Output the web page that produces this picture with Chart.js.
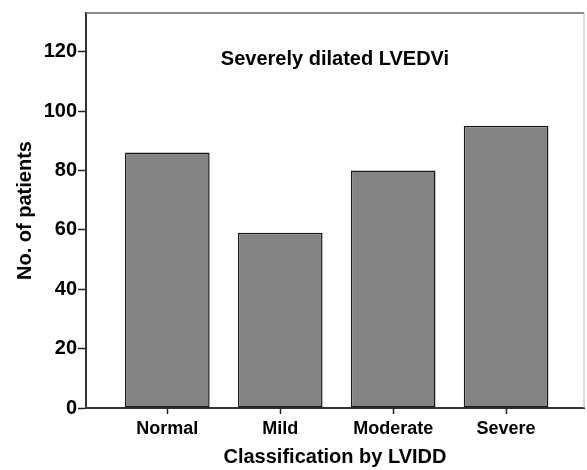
<!DOCTYPE html>
<html>
<head>
<meta charset="utf-8">
<script src="https://cdn.jsdelivr.net/npm/chart.js@4/dist/chart.umd.min.js"></script>
<style>
  body { margin: 0; background: #fff; }
  canvas { display: block; }
</style>
</head>
<body>
<canvas class="myChart" width="587" height="470"></canvas>
<script>
const categories = ["Normal", "Mild", "Moderate", "Severe"];
const patients = [86, 59, 80, 95];
const yTicks = [0, 20, 40, 60, 80, 100, 120];
const chartTitle = "Severely dilated LVEDVi";

const font = "'Liberation Sans', Arial, sans-serif";

// title sits inside the plot, plus the light top/right frame
const framePlugin = {
  id: "frame",
  afterDraw(chart) {
    const { ctx, chartArea: a } = chart;
    ctx.save();
    ctx.strokeStyle = "#666";
    ctx.lineWidth = 1.5;
    ctx.beginPath();
    ctx.moveTo(a.left, a.top);
    ctx.lineTo(a.right, a.top);
    ctx.stroke();
    ctx.strokeStyle = "#bbb";
    ctx.lineWidth = 1;
    ctx.beginPath();
    ctx.moveTo(a.right, a.top);
    ctx.lineTo(a.right, a.bottom);
    ctx.stroke();
    ctx.fillStyle = "#000";
    ctx.font = "bold 20px " + font;
    ctx.textAlign = "center";
    ctx.textBaseline = "middle";
    ctx.fillText(chartTitle, (a.left + a.right) / 2, a.top + 46);
    ctx.restore();
  },
};

const ctx = document.querySelector(".myChart");

new Chart(ctx, {
  type: "bar",
  data: {
    datasets: [
      {
        label: "No. of patients",
        data: patients.map((v, i) => ({ x: i, y: v })),
        backgroundColor: "#838383",
        borderColor: "#1a1a1a",
        borderWidth: 1.5,
        borderSkipped: false,
        barPercentage: 0.75,
        categoryPercentage: 1,
      },
    ],
  },
  options: {
    responsive: false,
    animation: false,
    layout: { padding: { top: 10, right: 3, left: 0, bottom: 0 } },
    plugins: {
      legend: { display: false },
      tooltip: { enabled: false },
    },
    scales: {
      x: {
        type: "linear",
        offset: false,
        min: -0.72,
        max: 3.69,
        afterBuildTicks: (s) => {
          s.ticks = categories.map((_, i) => ({ value: i }));
        },
        afterFit: (s) => {
          s.height = 62;
        },
        ticks: {
          callback: (v) => categories[v],
          color: "#000",
          font: { family: font, size: 18, weight: "bold" },
          padding: 4,
          maxRotation: 0,
        },
        grid: {
          offset: false,
          drawOnChartArea: false,
          tickLength: 6,
          tickColor: "#222",
          tickWidth: 1.5,
        },
        border: { color: "#333", width: 2 },
        title: {
          display: true,
          text: "Classification by LVIDD",
          color: "#000",
          font: { family: font, size: 20, weight: "bold" },
          padding: { top: 0, bottom: 1 },
        },
      },
      y: {
        min: 0,
        max: 133,
        afterBuildTicks: (s) => {
          s.ticks = yTicks.map((v) => ({ value: v }));
        },
        afterFit: (s) => {
          s.width = 86;
        },
        ticks: {
          color: "#000",
          font: { family: font, size: 20, weight: "bold" },
          padding: 1,
        },
        grid: {
          drawOnChartArea: false,
          tickLength: 8,
          tickColor: "#222",
          tickWidth: 1.5,
        },
        border: { color: "#333", width: 2 },
        title: {
          display: true,
          text: "No. of patients",
          color: "#000",
          font: { family: font, size: 20, weight: "bold" },
          padding: { top: 13, bottom: 0 },
        },
      },
    },
  },
  plugins: [framePlugin],
});
</script>
</body>
</html>
